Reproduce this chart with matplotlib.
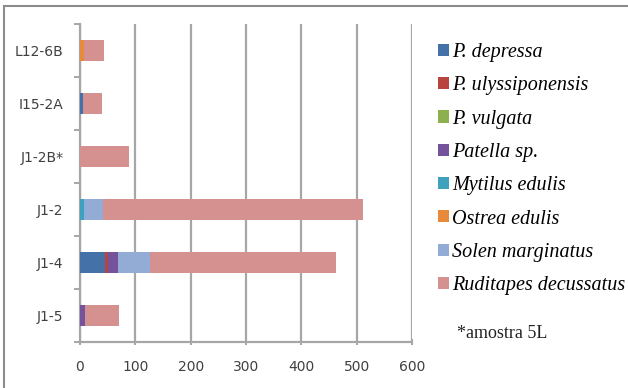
import matplotlib
matplotlib.use("Agg")
import matplotlib.pyplot as plt
from matplotlib.patches import Rectangle, Patch
import numpy as np

# samples, bottom to top
samples = ["J1-5", "J1-4", "J1-2", "J1-2B*", "I15-2A", "L12-6B"]

species = ["P. depressa", "P. ulyssiponensis", "P. vulgata", "Patella sp.",
           "Mytilus edulis", "Ostrea edulis", "Solen marginatus",
           "Ruditapes decussatus"]

p_depressa = [0, 46, 0, 0, 5, 0]
p_ulyssiponensis = [0, 5, 0, 0, 0, 0]
p_vulgata = [0, 0, 0, 0, 0, 0]
patella_sp = [9, 17, 0, 0, 0, 0]
mytilus_edulis = [0, 0, 7, 0, 0, 0]
ostrea_edulis = [0, 0, 0, 0, 0, 8]
solen_marginatus = [0, 59, 34, 0, 0, 0]
ruditapes_decussatus = [62, 336, 470, 89, 35, 36]

series = [p_depressa, p_ulyssiponensis, p_vulgata, patella_sp,
          mytilus_edulis, ostrea_edulis, solen_marginatus, ruditapes_decussatus]

colors = ["#4472A8", "#B8433F", "#8DB04E", "#74539A",
          "#3EA2BE", "#E9893A", "#93ACD6", "#D49190"]

xticks = [0, 100, 200, 300, 400, 500, 600]

fig = plt.figure(figsize=(6.28, 3.88), dpi=100)
ax = fig.add_axes([80 / 628, 1 - 342 / 388, 332 / 628, 318 / 388])

y = np.arange(len(samples))
left = np.zeros(len(samples))
for vals, col, name in zip(series, colors, species):
    ax.barh(y, vals, left=left, height=0.4, color=col, label=name, zorder=3)
    left += np.array(vals)

grid_col = "#A6A6A6"
ax.set_xlim(0, 600)
ax.set_ylim(-0.5, len(samples) - 0.5)
ax.set_xticks(xticks)
ax.set_xticklabels([str(t) for t in xticks])
ax.xaxis.grid(True, color=grid_col, linewidth=1.6, zorder=0)
ax.set_yticks(y)
ax.set_yticklabels(samples)
ax.set_yticks(np.arange(-0.5, len(samples)), minor=True)
ax.tick_params(axis="y", which="major", length=0, pad=12,
               labelsize=10, labelcolor="#404040")
ax.tick_params(axis="y", which="minor", length=4, width=1.4,
               color=grid_col, direction="out")
ax.tick_params(axis="x", length=4, width=1.4, color=grid_col,
               direction="inout", labelsize=10, labelcolor="#404040", pad=11)

for s in ["top", "right"]:
    ax.spines[s].set_visible(False)
for s in ["left", "bottom"]:
    ax.spines[s].set_color(grid_col)
    ax.spines[s].set_linewidth(1.6)

handles = [Patch(facecolor=c, label=n) for c, n in zip(colors, species)]
fig.legend(handles=handles, loc="upper left",
           bbox_to_anchor=(430 / 628, 1 - 35 / 388),
           frameon=False, handlelength=0.55, handleheight=0.55,
           handletextpad=0.15, labelspacing=0.71, borderaxespad=0,
           prop={"family": "Liberation Serif", "style": "italic", "size": 14.5})

fig.text(457 / 628, 1 - 334 / 388, "*amostra 5L", family="Liberation Serif",
         fontsize=13, color="#222222", va="center", ha="left")

# outer frame
fig.add_artist(Rectangle((4 / 628, -0.1), 1.1, 1 - 6 / 388 + 0.1,
                         transform=fig.transFigure, fill=False,
                         edgecolor="#8C8C8C", linewidth=1.5))

fig.savefig("out.png", dpi=100)
